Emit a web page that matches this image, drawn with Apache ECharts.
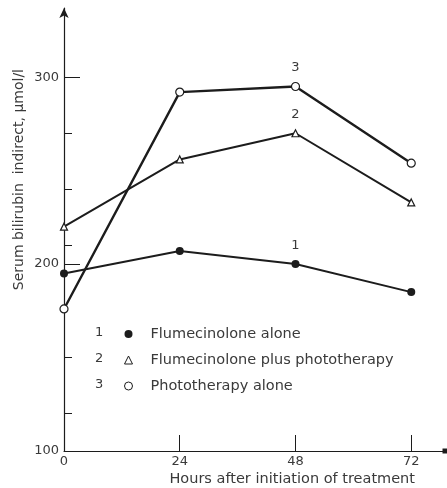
<!DOCTYPE html>
<html>
<head>
<meta charset="utf-8">
<script src="https://cdn.jsdelivr.net/npm/echarts@6/dist/echarts.min.js"></script>
<style>
  html, body { margin: 0; padding: 0; background: #fff; }
  #chart { width: 447px; height: 488px; }
</style>
</head>
<body>
<div id="chart"></div>
<script>
  // hours after start of treatment
  const hours = [0, 24, 48, 72]
  // serum bilirubin indirect, umol/l
  const flumAlone = [195, 207, 200, 185]
  const flumPhoto = [220, 256, 270, 233]
  const photoAlone = [176, 292, 295, 254]
  const seriesNames = ['Flumecinolone alone', 'Flumecinolone plus phototherapy', 'Phototherapy alone']
  const yLabelValues = [100, 200, 300]
  const yMajorTicks = [200, 300]
  const yMinorTicks = [120, 150, 210, 240, 270]
  const xLabelValues = [0, 24, 48, 72]
  const xTickValues = [24, 48, 72]

  const font = 'DejaVu Sans'
  const ink = '#1c1c1c'
  const textCol = '#3a3a3a'

  let pairs = (vals) => hours.map((h, i) => [h, vals[i]])

  // series number printed above the 48 h point
  let numLabel = (n) => ({
    show: true,
    position: 'top',
    distance: 8,
    formatter: (p) => p.value[0] === 48 ? String(n) : '',
    color: textCol,
    fontFamily: font,
    fontSize: 13
  })

  let chart = echarts.init(document.getElementById('chart'))
  chart.setOption({
    animation: false,
    backgroundColor: '#fff',
    textStyle: { fontFamily: font },
    grid: { left: 64, right: 2, top: 8, bottom: 37, containLabel: false },
    legend: {
      orient: 'vertical',
      left: 119,
      top: 321,
      itemGap: 10,
      itemWidth: 8,
      itemHeight: 8,
      textStyle: { color: textCol, fontFamily: font, fontSize: 14.5, lineHeight: 16, padding: [0, 0, 0, 13] },
      selectedMode: false,
      data: [
        { name: seriesNames[0], icon: 'circle', itemStyle: { color: ink, borderWidth: 0 } },
        { name: seriesNames[1], icon: 'triangle', itemStyle: { color: '#fff', borderColor: ink, borderWidth: 1 } },
        { name: seriesNames[2], icon: 'circle', itemStyle: { color: '#fff', borderColor: ink, borderWidth: 1 } }
      ]
    },
    graphic: seriesNames.map((s, i) => ({
      type: 'text',
      left: 95,
      top: 326 + i * 26,
      style: { text: String(i + 1), fill: textCol, font: '13px ' + font }
    })).concat([{
      type: 'text',
      left: 12,
      top: 69,
      style: {
        text: 'Serum bilirubin  indirect, µmol/l',
        fill: textCol,
        font: '14px ' + font
      },
      rotation: Math.PI / 2,
      originX: 0,
      originY: 0
    }]),
    xAxis: {
      type: 'value',
      min: 0,
      max: 79,
      name: 'Hours after initiation of treatment',
      nameLocation: 'end',
      nameGap: 0,
      nameTextStyle: {
        color: textCol, fontFamily: font, fontSize: 14.5,
        align: 'right', verticalAlign: 'top', padding: [21, 30, 0, 0]
      },
      axisLine: {
        show: true,
        lineStyle: { color: ink, width: 1.2 },
        symbol: ['none', 'rect'],
        symbolSize: [5, 5]
      },
      axisTick: { show: true, inside: true, length: 16, customValues: xTickValues, lineStyle: { color: ink } },
      axisLabel: { customValues: xLabelValues, color: textCol, fontSize: 13, fontFamily: font, margin: 4 },
      splitLine: { show: false }
    },
    yAxis: [
      {
        type: 'value',
        min: 100,
        max: 337,
        axisLine: {
          show: true,
          lineStyle: { color: ink, width: 1.2 },
          symbol: ['none', 'arrow'],
          symbolSize: [7, 10]
        },
        axisTick: { show: true, inside: true, length: 16, customValues: yMajorTicks, lineStyle: { color: ink } },
        axisLabel: { customValues: yLabelValues, color: textCol, fontSize: 13, fontFamily: font, margin: 5 },
        splitLine: { show: false }
      },
      {
        type: 'value',
        min: 100,
        max: 337,
        position: 'left',
        axisLine: { show: false },
        axisTick: { show: true, inside: true, length: 8, customValues: yMinorTicks, lineStyle: { color: ink } },
        axisLabel: { show: false },
        splitLine: { show: false }
      }
    ],
    series: [
      {
        name: seriesNames[0],
        type: 'line',
        data: pairs(flumAlone),
        symbol: 'circle',
        symbolSize: 8,
        itemStyle: { color: ink },
        lineStyle: { color: ink, width: 2 },
        label: numLabel(1),
        z: 3
      },
      {
        name: seriesNames[1],
        type: 'line',
        data: pairs(flumPhoto),
        symbol: 'triangle',
        symbolSize: 7,
        itemStyle: { color: '#fff', borderColor: ink, borderWidth: 1.2 },
        lineStyle: { color: ink, width: 2 },
        label: numLabel(2),
        z: 3
      },
      {
        name: seriesNames[2],
        type: 'line',
        data: pairs(photoAlone),
        symbol: 'circle',
        symbolSize: 8,
        itemStyle: { color: '#fff', borderColor: ink, borderWidth: 1.2 },
        lineStyle: { color: ink, width: 2.4 },
        label: numLabel(3),
        z: 3
      }
    ]
  })
</script>
</body>
</html>
